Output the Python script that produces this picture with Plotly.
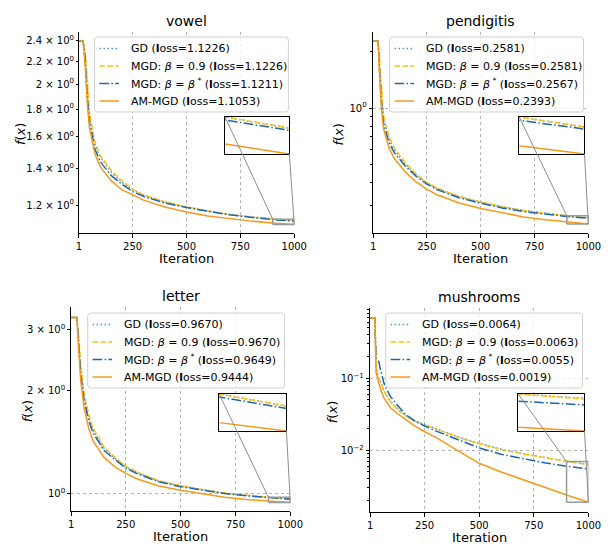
import math
import plotly.graph_objects as go

# ---------------- data ----------------
X_TICKS = [1, 250, 500, 750, 1000]
X_TICK_LABELS = ["1", "250", "500", "750", "1000"]

VOWEL_ITER = [1, 20, 30, 40, 50, 75, 100, 150, 200, 250, 300, 400, 500, 600, 700, 800, 900, 1000]
VOWEL_GD = [2.40, 2.40, 2.25, 1.93, 1.74, 1.55, 1.47, 1.38, 1.32, 1.278, 1.25, 1.215, 1.19, 1.17, 1.153, 1.141, 1.130, 1.1226]
VOWEL_MGD = [2.40, 2.40, 2.28, 1.97, 1.77, 1.57, 1.48, 1.39, 1.33, 1.282, 1.252, 1.216, 1.19, 1.17, 1.153, 1.141, 1.130, 1.1226]
VOWEL_BSTAR = [2.40, 2.40, 2.22, 1.88, 1.70, 1.52, 1.44, 1.36, 1.31, 1.27, 1.245, 1.21, 1.187, 1.167, 1.151, 1.139, 1.128, 1.1211]
VOWEL_AM = [2.40, 2.40, 2.15, 1.83, 1.66, 1.49, 1.41, 1.33, 1.28, 1.25, 1.225, 1.19, 1.165, 1.146, 1.132, 1.121, 1.112, 1.1053]
VOWEL_YTICKS = [1.2, 1.4, 1.6, 1.8, 2.0, 2.2, 2.4]
VOWEL_YTICK_LABELS = ["1.2 × 10<sup>0</sup>", "1.4 × 10<sup>0</sup>", "1.6 × 10<sup>0</sup>",
                      "1.8 × 10<sup>0</sup>", "2 × 10<sup>0</sup>", "2.2 × 10<sup>0</sup>",
                      "2.4 × 10<sup>0</sup>"]

PEN_ITER = [1, 24, 30, 40, 50, 75, 100, 150, 200, 250, 300, 400, 500, 600, 700, 800, 900, 1000]
PEN_GD = [2.28, 2.28, 1.75, 1.12, 0.86, 0.68, 0.595, 0.50, 0.44, 0.398, 0.37, 0.335, 0.313, 0.296, 0.283, 0.273, 0.2651, 0.2581]
PEN_MGD = [2.28, 2.28, 1.85, 1.20, 0.90, 0.70, 0.61, 0.51, 0.445, 0.40, 0.372, 0.336, 0.314, 0.297, 0.283, 0.273, 0.2651, 0.2581]
PEN_BSTAR = [2.28, 2.28, 1.65, 1.05, 0.82, 0.65, 0.575, 0.49, 0.432, 0.392, 0.365, 0.331, 0.309, 0.292, 0.279, 0.270, 0.2628, 0.2567]
PEN_AM = [2.28, 2.28, 1.55, 0.98, 0.77, 0.61, 0.535, 0.455, 0.402, 0.368, 0.342, 0.31, 0.29, 0.274, 0.261, 0.252, 0.2450, 0.2393]
PEN_YTICKS = [1]
PEN_YTICK_LABELS = ["10<sup>0</sup>"]

LET_ITER = [1, 27, 35, 45, 60, 80, 100, 150, 200, 250, 300, 400, 500, 600, 700, 800, 900, 1000]
LET_GD = [3.26, 3.26, 2.80, 2.28, 1.92, 1.68, 1.54, 1.36, 1.27, 1.20, 1.155, 1.09, 1.055, 1.028, 1.006, 0.99, 0.978, 0.9670]
LET_MGD = [3.26, 3.26, 2.88, 2.35, 1.96, 1.71, 1.56, 1.37, 1.28, 1.205, 1.16, 1.093, 1.057, 1.029, 1.007, 0.99, 0.978, 0.9670]
LET_BSTAR = [3.26, 3.26, 2.72, 2.22, 1.87, 1.64, 1.51, 1.34, 1.26, 1.19, 1.147, 1.085, 1.05, 1.024, 1.003, 0.988, 0.9753, 0.9649]
LET_AM = [3.26, 3.26, 2.62, 2.12, 1.78, 1.56, 1.43, 1.28, 1.20, 1.148, 1.108, 1.055, 1.025, 1.0, 0.978, 0.963, 0.952, 0.9444]
LET_YTICKS = [1, 2, 3]
LET_YTICK_LABELS = ["10<sup>0</sup>", "2 × 10<sup>0</sup>", "3 × 10<sup>0</sup>"]

MUSH_ITER = [1, 22, 28, 34, 40, 49, 64, 79, 94, 124, 160, 200, 250, 300, 400, 500, 600, 700, 800, 900, 1000]
MUSH_GD = [0.68, 0.68, 0.14, 0.115, 0.100, 0.088, 0.068, 0.056, 0.048, 0.038, 0.031, 0.026, 0.0228, 0.0198, 0.0155, 0.0125, 0.0104, 0.0090, 0.0080, 0.0070, 0.0064]
MUSH_MGD = [0.68, 0.68, 0.13, 0.110, 0.098, 0.087, 0.067, 0.0555, 0.047, 0.0375, 0.0305, 0.0257, 0.0225, 0.0196, 0.0153, 0.0123, 0.0103, 0.0089, 0.0079, 0.0070, 0.0063]
MUSH_BSTAR = [0.68, 0.68, 0.19, 0.178, 0.172, 0.13, 0.085, 0.068, 0.0555, 0.043, 0.032, 0.0262, 0.0217, 0.0186, 0.0140, 0.0108, 0.0088, 0.0076, 0.0067, 0.0060, 0.0055]
MUSH_AM = [0.68, 0.68, 0.12, 0.100, 0.085, 0.069, 0.053, 0.045, 0.039, 0.0327, 0.027, 0.0222, 0.0181, 0.0152, 0.0100, 0.0066, 0.0050, 0.0039, 0.0031, 0.0024, 0.0019]
MUSH_YTICKS = [0.01, 0.1]
MUSH_YTICK_LABELS = ["10<sup>−2</sup>", "10<sup>−1</sup>"]

TITLES = ["vowel", "pendigitis", "letter", "mushrooms"]
SERIES_NAMES = ["GD", "MGD: <i>β</i> = 0.9", "MGD: <i>β</i> = <i>β</i><sup> *</sup>", "AM-MGD"]
ZOOM_START = 900

# ---------------- styling / layout ----------------
W, H = 616, 544
FONT = "DejaVu Sans"
COLORS = ["#4d93cc", "#ffc10e", "#1f67aa", "#f7991c"]
DASHES = ["1.5px,2.5px", "5.5px,2.4px", "9.6px,2.4px,1.5px,2.4px", "solid"]
GRID = dict(showgrid=True, gridcolor="#b3b3b3", griddash="dot", gridwidth=0.8)
LEG_ROWS = [11.5, 29, 46.5, 64]     # row centres (px below legend top)
LEG_H = 75


def fx(p):
    return p / W


def fy(p):
    return 1 - p / H


PANELS = [
    dict(box=(78, 32, 299, 233), yr=(0.0278, 0.3967), inset=(228, 117, 294, 154), leg=(94, 37, 199), ylab_x=18,
         iters=VOWEL_ITER, series=[VOWEL_GD, VOWEL_MGD, VOWEL_BSTAR, VOWEL_AM],
         ytv=VOWEL_YTICKS, ytt=VOWEL_YTICK_LABELS, major_grid=[], minor_ticks=[], ticklen=2),
    dict(box=(380, 32, 601, 233), yr=(-0.669, 0.407), inset=(530, 117, 597, 154), leg=(397, 37, 199), ylab_x=344,
         iters=PEN_ITER, series=[PEN_GD, PEN_MGD, PEN_BSTAR, PEN_AM],
         ytv=PEN_YTICKS, ytt=PEN_YTICK_LABELS, major_grid=[1], minor_ticks=[0.3, 0.4, 0.5, 0.6, 0.7, 0.8, 0.9, 2.0],
         ticklen=3.5),
    dict(box=(70, 307, 295, 511), yr=(-0.0495, 0.544), inset=(222, 394, 291, 431), leg=(87, 313, 202), ylab_x=25,
         iters=LET_ITER, series=[LET_GD, LET_MGD, LET_BSTAR, LET_AM],
         ytv=LET_YTICKS, ytt=LET_YTICK_LABELS, major_grid=[1], minor_ticks=[], ticklen=3),
    dict(box=(377, 308, 601, 512), yr=(-2.857, -0.024), inset=(529, 394, 597, 431), leg=(393, 313, 202), ylab_x=338,
         iters=MUSH_ITER, series=[MUSH_GD, MUSH_MGD, MUSH_BSTAR, MUSH_AM],
         ytv=MUSH_YTICKS, ytt=MUSH_YTICK_LABELS, major_grid=[0.01, 0.1],
         minor_ticks=[m * 10 ** e for e in (-3, -2, -1) for m in range(2, 10)], ticklen=3.5),
]


def rounded_box(x0, y0, x1, y1, r):
    """SVG path (paper coords) of a rounded rectangle given in pixel coords."""
    pts = [
        ("M", (x0 + r, y0)), ("L", (x1 - r, y0)), ("Q", (x1, y0), (x1, y0 + r)),
        ("L", (x1, y1 - r)), ("Q", (x1, y1), (x1 - r, y1)), ("L", (x0 + r, y1)),
        ("Q", (x0, y1), (x0, y1 - r)), ("L", (x0, y0 + r)), ("Q", (x0, y0), (x0 + r, y0)),
    ]
    out = []
    for cmd, *cs in pts:
        out.append(cmd + " " + " ".join(f"{fx(a):.5f},{fy(b):.5f}" for a, b in cs))
    return " ".join(out) + " Z"


fig = go.Figure()
layout = dict(
    width=W, height=H, margin=dict(l=0, r=0, t=0, b=0),
    paper_bgcolor="white", plot_bgcolor="white",
    font=dict(family=FONT, color="black", size=10),
    showlegend=False, annotations=[], shapes=[],
)

for k, p in enumerate(PANELS, start=1):
    xa = "x" if k == 1 else f"x{k}"
    ya = "y" if k == 1 else f"y{k}"
    xi, yi = f"x{k + 4}", f"y{k + 4}"
    bx0, by0, bx1, by1 = p["box"]
    ix0, iy0, ix1, iy1 = p["inset"]
    it = p["iters"]

    for j, s in enumerate(p["series"]):
        fig.add_trace(go.Scatter(
            x=it, y=s, mode="lines", name=SERIES_NAMES[j], xaxis=xa, yaxis=ya,
            line=dict(color=COLORS[j], dash=DASHES[j], width=1.5), hoverinfo="skip"))
    for j, s in enumerate(p["series"]):
        fig.add_trace(go.Scatter(
            x=it, y=s, mode="lines", showlegend=False, xaxis=xi, yaxis=yi,
            line=dict(color=COLORS[j], dash=DASHES[j], width=1.5), hoverinfo="skip"))

    zoom_vals = [v for s in p["series"] for i, v in zip(it, s) if i >= ZOOM_START]
    lo, hi = min(zoom_vals), max(zoom_vals)
    xmax = it[-1]
    fig.add_trace(go.Scatter(
        x=[ZOOM_START, xmax, xmax, ZOOM_START, ZOOM_START], y=[lo, lo, hi, hi, lo],
        mode="lines", showlegend=False, xaxis=xa, yaxis=ya,
        line=dict(color="#999999", width=1.5), hoverinfo="skip"))

    r0, r1 = p["yr"]
    axis_common = dict(showline=True, linecolor="black", linewidth=1, ticks="outside",
                       tickcolor="black", tickwidth=0.8, zeroline=False,
                       tickfont=dict(size=10, family=FONT, color="black"))
    layout["xaxis" if k == 1 else f"xaxis{k}"] = dict(
        domain=[fx(bx0), fx(bx1)], range=[1, 1000], anchor=ya, tickmode="array",
        tickvals=X_TICKS, ticktext=X_TICK_LABELS, ticklen=3.5, **GRID, **axis_common)
    yax = dict(
        type="log", domain=[fy(by1), fy(by0)], range=[r0, r1], anchor=xa, tickmode="array",
        tickvals=p["ytv"], ticktext=p["ytt"], ticklen=p["ticklen"], showgrid=False, **axis_common)
    minor = dict(ticks="outside", ticklen=2, tickwidth=0.6, tickcolor="black", tickmode="array",
                 tickvals=p["minor_ticks"], showgrid=False)
    if k == 3:
        minor = dict(ticks="", tickmode="array", tickvals=p["major_grid"], showgrid=True,
                     gridcolor="#b3b3b3", griddash="dot", gridwidth=0.8)
    elif p["major_grid"]:
        yax.update(showgrid=True, gridcolor="#b3b3b3", griddash="dot", gridwidth=0.8)
    yax["minor"] = minor
    layout["yaxis" if k == 1 else f"yaxis{k}"] = yax

    inset_common = dict(showline=True, mirror=True, linecolor="black", linewidth=1.3,
                        showticklabels=False, ticks="", showgrid=False, zeroline=False)
    layout[f"xaxis{k + 4}"] = dict(domain=[fx(ix0), fx(ix1)], range=[ZOOM_START, xmax], anchor=yi, **inset_common)
    layout[f"yaxis{k + 4}"] = dict(domain=[fy(iy1), fy(iy0)], range=[lo, hi], anchor=xi, **inset_common)

    layout["shapes"].append(dict(type="rect", xref=f"{xi} domain", yref=f"{yi} domain", x0=0, x1=1, y0=0, y1=1,
                                 fillcolor="white", line=dict(width=0), layer="below"))
    # connectors (inset corners -> zoom rectangle corners), in main-axes domain fractions
    fxz = (ZOOM_START - 1) / (1000 - 1)
    fyh = (math.log10(hi) - r0) / (r1 - r0)
    fyl = (math.log10(lo) - r0) / (r1 - r0)
    tl = ((ix0 - bx0) / (bx1 - bx0), (by1 - iy0) / (by1 - by0))
    br = ((ix1 - bx0) / (bx1 - bx0), (by1 - iy1) / (by1 - by0))
    for (ax0, ay0), (ax1, ay1) in [(tl, (fxz, fyh)), (br, (1.0, fyl))]:
        layout["shapes"].append(dict(type="line", xref=f"{xa} domain", yref=f"{ya} domain",
                                     x0=ax0, y0=ay0, x1=ax1, y1=ay1,
                                     line=dict(color="#8c8c8c", width=1), layer="above"))

    # legend (matplotlib-like: rounded frame, short line samples, tight rows)
    lx, ly, lw = p["leg"]
    layout["shapes"].append(dict(type="path", xref="paper", yref="paper",
                                 path=rounded_box(lx, ly, lx + lw, ly + LEG_H, 3),
                                 fillcolor="rgba(255,255,255,0.8)", line=dict(color="#d0d0d0", width=1),
                                 layer="above"))
    for j, s in enumerate(p["series"]):
        ry = ly + LEG_ROWS[j]
        layout["shapes"].append(dict(type="line", xref="paper", yref="paper",
                                     x0=fx(lx + 5), x1=fx(lx + 25), y0=fy(ry), y1=fy(ry),
                                     line=dict(color=COLORS[j], dash=DASHES[j], width=1.5), layer="above"))
        layout["annotations"].append(dict(
            text=f"{SERIES_NAMES[j]} (<b>l</b>oss={s[-1]:.4f})", x=fx(lx + 35), y=fy(ry),
            xref="paper", yref="paper", showarrow=False, xanchor="left", yanchor="middle",
            font=dict(size=11, family=FONT, color="black")))

    cx = fx((bx0 + bx1) / 2)
    layout["annotations"] += [
        dict(text=TITLES[k - 1], x=cx, y=fy(by0 - 11), xref="paper", yref="paper", showarrow=False,
             xanchor="center", yanchor="middle", font=dict(size=14, family=FONT, color="black")),
        dict(text="Iteration", x=cx, y=fy(by1 + 25), xref="paper", yref="paper", showarrow=False,
             xanchor="center", yanchor="middle", font=dict(size=13, family=FONT, color="black")),
        dict(text="<i>f</i>(<i>x</i>)", x=fx(p["ylab_x"]), y=fy((by0 + by1) / 2 + 2), xref="paper", yref="paper",
             showarrow=False, textangle=-90, xanchor="center", yanchor="middle",
             font=dict(size=13, family=FONT, color="black")),
    ]

fig.update_layout(**layout)
fig.write_html("out.html")
